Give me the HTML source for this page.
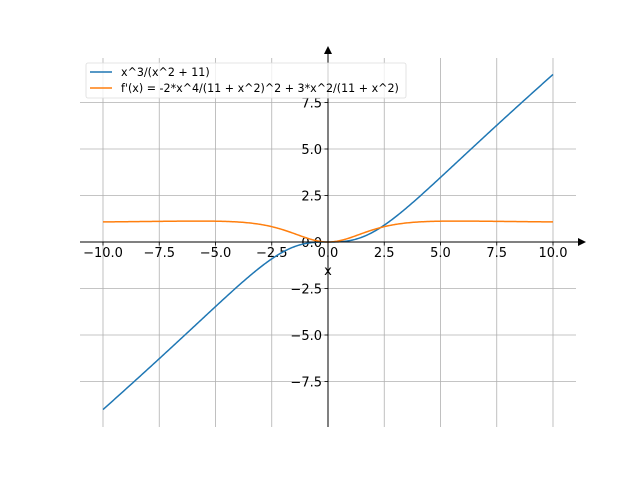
<!DOCTYPE html>
<html><head><meta charset="utf-8"><style>
html,body{margin:0;padding:0;background:#fff;}
svg{display:block;font-family:"DejaVu Sans","Liberation Sans",sans-serif;}
</style></head><body>
<svg id="s" width="640" height="480" viewBox="0 0 640 480" xmlns="http://www.w3.org/2000/svg">
<rect width="640" height="480" fill="#fff"/>
<g id="grid" stroke="#b0b0b0" stroke-width="0.8"></g>
<g id="ticks" stroke="#000" stroke-width="0.8"></g>
<g id="labels" font-size="13" fill="#000"></g>
<path id="p1" fill="none" stroke="#1f77b4" stroke-width="1.5"/>
<path id="p2" fill="none" stroke="#ff7f0e" stroke-width="1.5"/>
<line x1="80" y1="242" x2="580" y2="242" stroke="#000" stroke-width="1"/>
<polygon points="586,242 578,238 578,246" fill="#000"/>
<line x1="328" y1="427" x2="328" y2="52" stroke="#000" stroke-width="1"/>
<polygon points="328,46 324,54 332,54" fill="#000"/>
<text x="328" y="275" font-size="13" text-anchor="middle">x</text>
<rect x="86" y="63" width="320" height="35" rx="2" fill="#fff" fill-opacity="0.8" stroke="#ddd" stroke-width="0.8"/>
<line x1="90" y1="72" x2="112" y2="72" stroke="#1f77b4" stroke-width="1.5"/>
<line x1="90" y1="88" x2="112" y2="88" stroke="#ff7f0e" stroke-width="1.5"/>
<text x="121" y="76" font-size="11.1">x^3/(x^2 + 11)</text>
<text x="121" y="92" font-size="11.1">f'(x) = -2*x^4/(11 + x^2)^2 + 3*x^2/(11 + x^2)</text>
</svg>
<script>
var X=function(v){return 328+22.5*v},Y=function(v){return 242-18.6*v};
var g=document.getElementById('grid'),t=document.getElementById('ticks'),l=document.getElementById('labels');
var ns='http://www.w3.org/2000/svg';
function el(p,n,a,txt){var e=document.createElementNS(ns,n);for(var k in a)e.setAttribute(k,a[k]);if(txt!=null)e.textContent=txt;p.appendChild(e);}
function fmt(v){return (v<0?'\u2212':'')+Math.abs(v).toFixed(1);}
for(var v=-10;v<=10;v+=2.5){var x=X(v);
 el(g,'line',{x1:x,y1:58,x2:x,y2:427});
 el(t,'line',{x1:x,y1:242,x2:x,y2:245.5});
 el(l,'text',{x:x,y:257,'text-anchor':'middle'},fmt(v));}
for(var v=-7.5;v<=7.5;v+=2.5){var y=Y(v);
 el(g,'line',{x1:80,y1:y,x2:576,y2:y});
 el(t,'line',{x1:324.5,y1:y,x2:328,y2:y});
 el(l,'text',{x:322,y:y+5,'text-anchor':'end'},fmt(v));}
var a='',b='';
for(var i=0;i<=400;i++){var x=-10+20*i/400,d=x*x+11;
 var f=x*x*x/d,fp=(x*x*x*x+33*x*x)/(d*d);
 a+=(i?'L':'M')+X(x).toFixed(2)+','+Y(f).toFixed(2);
 b+=(i?'L':'M')+X(x).toFixed(2)+','+Y(fp).toFixed(2);}
document.getElementById('p1').setAttribute('d',a);
document.getElementById('p2').setAttribute('d',b);
</script>
</body></html>
